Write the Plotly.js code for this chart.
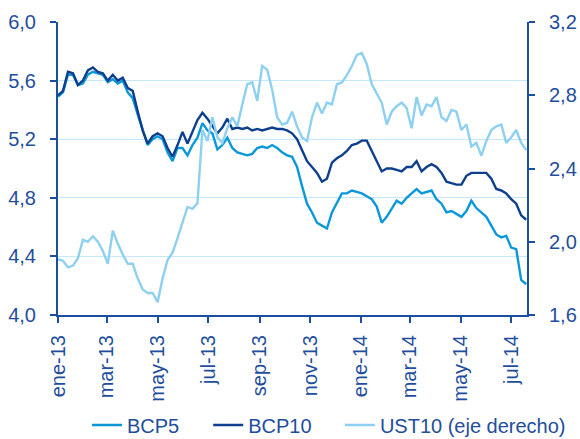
<!DOCTYPE html>
<html>
<head>
<meta charset="utf-8">
<script src="https://cdn.plot.ly/plotly-3.0.1.min.js"></script>
<style>html,body{margin:0;padding:0;background:#fff;}#chart{width:580px;height:439px;}</style>
</head>
<body>
<div id="chart"></div>
<script>
const dates = [
"2013-01-01","2013-01-07","2013-01-13","2013-01-19","2013-01-25","2013-01-31","2013-02-06","2013-02-12","2013-02-18","2013-02-24",
"2013-03-02","2013-03-08","2013-03-14","2013-03-20","2013-03-26","2013-04-01","2013-04-07","2013-04-13","2013-04-19","2013-04-25",
"2013-05-01","2013-05-07","2013-05-13","2013-05-19","2013-05-25","2013-05-31","2013-06-06","2013-06-12","2013-06-18","2013-06-24",
"2013-06-30","2013-07-06","2013-07-12","2013-07-18","2013-07-24","2013-07-30","2013-08-05","2013-08-11","2013-08-17","2013-08-23",
"2013-08-29","2013-09-04","2013-09-10","2013-09-16","2013-09-22","2013-09-28","2013-10-04","2013-10-10","2013-10-16","2013-10-22",
"2013-10-28","2013-11-03","2013-11-09","2013-11-15","2013-11-21","2013-11-27","2013-12-03","2013-12-09","2013-12-15","2013-12-21",
"2013-12-27","2014-01-02","2014-01-08","2014-01-14","2014-01-20","2014-01-26","2014-02-01","2014-02-07","2014-02-13","2014-02-19",
"2014-02-25","2014-03-03","2014-03-09","2014-03-15","2014-03-21","2014-03-27","2014-04-02","2014-04-08","2014-04-14","2014-04-20",
"2014-04-26","2014-05-02","2014-05-08","2014-05-14","2014-05-20","2014-05-26","2014-06-01","2014-06-07","2014-06-13","2014-06-19",
"2014-06-25","2014-07-01","2014-07-07","2014-07-13","2014-07-19"
];

const bcp5 = [
5.49,5.52,5.64,5.64,5.57,5.58,5.64,5.66,5.65,5.64,
5.59,5.61,5.58,5.60,5.52,5.48,5.37,5.26,5.16,5.20,
5.22,5.20,5.11,5.05,5.14,5.14,5.09,5.16,5.21,5.31,
5.26,5.24,5.13,5.16,5.21,5.14,5.11,5.10,5.09,5.10,
5.14,5.15,5.14,5.16,5.14,5.11,5.09,5.08,5.01,4.88,
4.76,4.70,4.63,4.61,4.59,4.70,4.77,4.83,4.83,4.85,
4.84,4.83,4.81,4.79,4.74,4.63,4.67,4.73,4.78,4.76,
4.80,4.83,4.86,4.83,4.84,4.85,4.79,4.76,4.70,4.71,
4.69,4.67,4.71,4.78,4.73,4.70,4.67,4.61,4.55,4.53,
4.54,4.46,4.45,4.24,4.21
];

const bcp10 = [
5.50,5.53,5.66,5.65,5.57,5.60,5.67,5.69,5.66,5.65,
5.60,5.64,5.60,5.62,5.55,5.53,5.39,5.26,5.17,5.22,
5.24,5.22,5.14,5.08,5.16,5.25,5.17,5.25,5.33,5.38,
5.34,5.29,5.24,5.28,5.34,5.27,5.28,5.27,5.28,5.26,
5.27,5.26,5.27,5.28,5.27,5.27,5.26,5.24,5.20,5.13,
5.05,5.01,4.97,4.91,4.93,5.04,5.07,5.09,5.12,5.16,
5.17,5.19,5.19,5.12,5.05,4.98,5.00,5.00,4.99,4.98,
5.01,5.01,5.05,4.98,5.01,5.03,5.01,4.97,4.91,4.90,
4.89,4.89,4.95,4.97,4.97,4.97,4.97,4.93,4.86,4.85,
4.83,4.79,4.76,4.68,4.65
];

const ust10 = [
1.905,1.896,1.86,1.87,1.91,2.01,2.00,2.03,2.00,1.95,
1.88,2.06,1.99,1.93,1.88,1.88,1.80,1.74,1.72,1.72,
1.67,1.80,1.90,1.94,2.02,2.11,2.19,2.18,2.21,2.61,
2.55,2.68,2.57,2.54,2.62,2.68,2.63,2.75,2.86,2.87,
2.77,2.96,2.94,2.83,2.68,2.64,2.65,2.71,2.63,2.57,
2.55,2.68,2.76,2.70,2.76,2.75,2.86,2.87,2.91,2.96,
3.02,3.03,2.97,2.86,2.81,2.76,2.64,2.71,2.74,2.76,
2.73,2.62,2.79,2.69,2.75,2.74,2.79,2.68,2.66,2.72,
2.71,2.61,2.64,2.52,2.54,2.47,2.55,2.61,2.63,2.64,
2.54,2.57,2.61,2.54,2.50
];

const tickDates = ["2013-01-01","2013-03-01","2013-05-01","2013-07-01","2013-09-01","2013-11-01","2014-01-01","2014-03-01","2014-05-01","2014-07-01"];
const tickLabels = ["ene-13","mar-13","may-13","jul-13","sep-13","nov-13","ene-14","mar-14","may-14","jul-14"];

const axisCol = '#1A4FA0';
const textCol = '#1F4E9C';

const traces = [
  {x: dates, y: bcp5, name: 'BCP5', type: 'scatter', mode: 'lines', legend: 'legend', line: {color: '#0B98DA', width: 2.4}},
  {x: dates, y: bcp10, name: 'BCP10', type: 'scatter', mode: 'lines', legend: 'legend2', line: {color: '#0E3F8F', width: 2.4}},
  {x: dates, y: ust10, name: 'UST10 (eje derecho)', type: 'scatter', mode: 'lines', yaxis: 'y2', legend: 'legend3', line: {color: '#8DD0F0', width: 2.4}}
];

function legendAt(xFrac) {
  return {orientation: 'h', xref: 'container', yref: 'container', x: xFrac, xanchor: 'left', y: 0.032, yanchor: 'middle',
          font: {size: 20, color: textCol}, bgcolor: 'rgba(0,0,0,0)'};
}

const layout = {
  width: 580, height: 439,
  margin: {l: 58, r: 53, t: 22, b: 124},
  paper_bgcolor: '#fff', plot_bgcolor: '#fff',
  separators: ',.',
  font: {family: 'Liberation Sans, Arial, sans-serif', color: textCol, size: 20},
  showlegend: true,
  legend: legendAt(0.150),
  legend2: legendAt(0.359),
  legend3: legendAt(0.586),
  xaxis: {
    type: 'date', range: ['2013-01-01', '2014-07-20'], automargin: false,
    tickmode: 'array', tickvals: tickDates, ticktext: tickLabels,
    tickangle: -90, tickfont: {size: 20, color: textCol}, ticklabelstandoff: 4,
    ticks: 'outside', ticklen: 6, tickwidth: 2, tickcolor: axisCol,
    showline: true, linecolor: axisCol, linewidth: 2,
    showgrid: false, zeroline: false
  },
  yaxis: {
    range: [4.0, 6.0], tick0: 4.0, dtick: 0.4, tickformat: '.1f', automargin: false,
    tickfont: {size: 20, color: textCol}, ticklabelstandoff: 10,
    ticks: 'outside', ticklen: 6, tickwidth: 2, tickcolor: axisCol,
    showline: true, linecolor: axisCol, linewidth: 2,
    showgrid: true, gridcolor: '#C6E7F8', gridwidth: 1, zeroline: false
  },
  yaxis2: {
    overlaying: 'y', side: 'right', automargin: false,
    range: [1.6, 3.2], tick0: 1.6, dtick: 0.4, tickformat: '.1f',
    tickfont: {size: 20, color: textCol}, ticklabelstandoff: 10,
    ticks: 'outside', ticklen: 6, tickwidth: 2, tickcolor: axisCol,
    showline: true, linecolor: axisCol, linewidth: 2,
    showgrid: false, zeroline: false
  }
};

Plotly.newPlot('chart', traces, layout, {displayModeBar: false, staticPlot: true});
</script>
</body>
</html>
